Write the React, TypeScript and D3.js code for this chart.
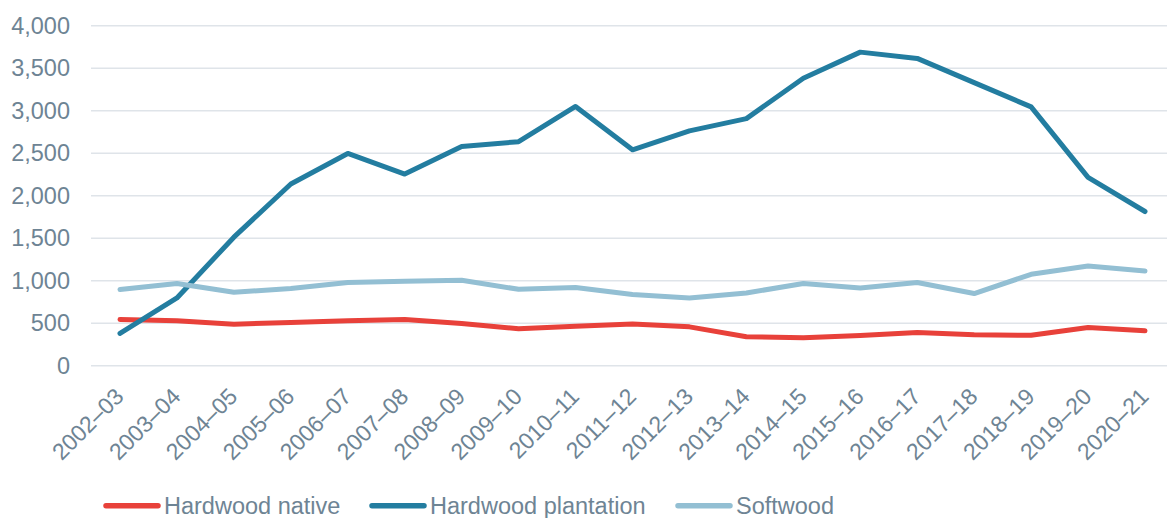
import React from "react";
import * as d3 from "d3";

const categories = [
  "2002–03", "2003–04", "2004–05", "2005–06", "2006–07", "2007–08", "2008–09",
  "2009–10", "2010–11", "2011–12", "2012–13", "2013–14", "2014–15", "2015–16",
  "2016–17", "2017–18", "2018–19", "2019–20", "2020–21",
];
const hardwoodNative = [544, 530, 489, 509, 530, 544, 497, 434, 465, 492, 457, 340, 330, 356, 392, 364, 358, 450, 410];
const hardwoodPlantation = [380, 797, 1512, 2138, 2497, 2255, 2580, 2635, 3050, 2540, 2763, 2907, 3381, 3689, 3615, 3330, 3045, 2216, 1814];
const softwood = [896, 966, 864, 907, 978, 993, 1005, 899, 919, 837, 797, 856, 966, 915, 978, 849, 1075, 1173, 1114];
const yTicks = [0, 500, 1000, 1500, 2000, 2500, 3000, 3500, 4000];

const seriesNames = ["Hardwood native", "Hardwood plantation", "Softwood"];
const seriesColors = ["#E8413A", "#237DA0", "#93BFD3"];
const seriesData = [hardwoodNative, hardwoodPlantation, softwood];

export default function App() {
  const W = 1167, H = 518;
  const x = d3.scalePoint<string>().domain(categories).range([120, 1145]);
  const y = d3.scaleLinear().domain([0, 4000]).range([365.7, 25.7]);
  const line = d3.line<number>()
    .x((_, i) => x(categories[i]) as number)
    .y((d) => y(d));
  const fmt = d3.format(",");
  const textColor = "#6E8494";
  const font = "'Liberation Sans', Arial, sans-serif";
  const legendX = [104, 370, 676];

  return (
    <svg width={W} height={H} style={{ position: "absolute", left: 0, top: 0 }} fontFamily={font}>
      <rect width={W} height={H} fill="#fff" />
      {yTicks.map((t) => (
        <g key={t}>
          <line x1={91} x2={W} y1={y(t)} y2={y(t)} stroke="#DFE4E9" strokeWidth={1.5} />
          <text x={70} y={y(t)} dy="0.35em" textAnchor="end" fontSize={23.5} fill={textColor}>
            {fmt(t)}
          </text>
        </g>
      ))}
      {categories.map((c) => (
        <text
          key={c}
          transform={`translate(${(x(c) as number) + 5},${398}) rotate(-45)`}
          textAnchor="end"
          fontSize={23}
          fill={textColor}
        >
          {c}
        </text>
      ))}
      {seriesData.map((s, i) => (
        <path
          key={i}
          d={line(s) || ""}
          fill="none"
          stroke={seriesColors[i]}
          strokeWidth={5}
          strokeLinejoin="round"
          strokeLinecap="round"
        />
      ))}
      {seriesNames.map((n, i) => (
        <g key={n}>
          <line x1={legendX[i] + 2} x2={legendX[i] + 54} y1={505.7} y2={505.7} stroke={seriesColors[i]} strokeWidth={5.5} strokeLinecap="round" />
          <text x={legendX[i] + 60} y={505.7} dy="0.35em" fontSize={23.5} fill={textColor}>
            {n}
          </text>
        </g>
      ))}
    </svg>
  );
}
